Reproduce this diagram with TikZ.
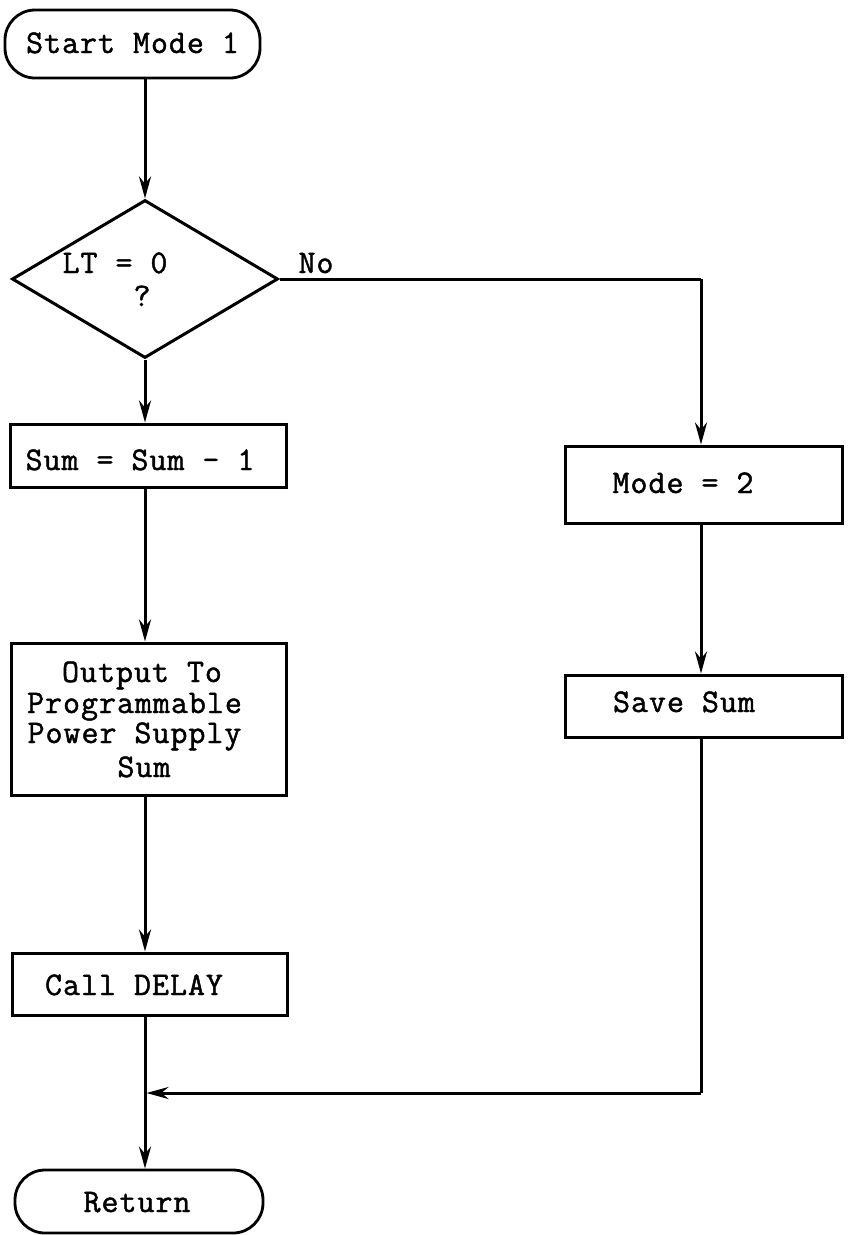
\documentclass[tikz,border=0pt]{standalone}
\usepackage{fontspec}
\newfontfamily\tw[LetterSpace=3,FakeBold=1.4]{Latin Modern Mono}
\usetikzlibrary{shapes.geometric,arrows.meta}
\tikzset{
  flow/.style={line width=3pt},
  arr/.style={flow,-{Stealth[length=22pt,width=12pt]}},
  procbox/.style={draw,line width=3pt,rectangle,inner sep=0pt},
  termbox/.style={draw,line width=2.8pt,rectangle,rounded corners=30pt,inner sep=0pt},
  decbox/.style={draw,line width=3pt,diamond,inner sep=0pt},
  txt/.style={inner sep=0pt,anchor=base,font=\tw\fontsize{33}{31}\selectfont},
}
\begin{document}
\begin{tikzpicture}[x=1pt,y=-1pt]
\useasboundingbox (0,0) rectangle (848,1235);
% shapes
\node[termbox,minimum width=255pt,minimum height=68pt] (start) at (132.5,44) {};
\node[decbox,minimum width=266pt,minimum height=158pt] (dec) at (145,279) {};
\node[procbox,minimum width=276pt,minimum height=63pt] (sum) at (148,455.5) {};
\node[procbox,minimum width=275pt,minimum height=152pt] (out) at (149,719) {};
\node[procbox,minimum width=275pt,minimum height=62pt] (call) at (149.5,984) {};
\node[termbox,minimum width=248pt,minimum height=63pt] (ret) at (139,1201.5) {};
\node[procbox,minimum width=277pt,minimum height=77pt] (mode) at (703.5,484.5) {};
\node[procbox,minimum width=277pt,minimum height=62pt] (save) at (703.5,706) {};
% texts
\node[txt] (tstart) at (132.5,53) {Start Mode 1};
\node[txt] (tlt) at (115,273) {LT = 0};
\node[txt] (tq) at (142,306) {?};
\node[txt] (tno) at (316,273) {No};
\node[txt] (tsum) at (140,470) {Sum = Sum - 1};
\node[txt] (to1) at (142,682) {Output To};
\node[txt] (to2) at (134.5,713) {Programmable};
\node[txt] (to3) at (134.5,743) {Power Supply};
\node[txt] (to4) at (144,777) {Sum};
\node[txt] (tcall) at (134,995) {Call DELAY};
\node[txt] (tret) at (137,1212) {Return};
\node[txt] (tmode) at (683,493) {Mode = 2};
\node[txt] (tsave) at (684,712) {Save Sum};
% coordinates
\coordinate (corner) at (701,279);
\coordinate (join) at (145,1093);
\coordinate (rcorner) at (701,1093);
% connectors
\draw[arr] (start.south -| 145,0) -- (dec.north);
\draw[arr] (dec.south) -- (sum.north -| dec.south);
\draw[arr] (sum.south -| dec.south) -- (out.north -| dec.south);
\draw[arr] (out.south -| dec.south) -- (call.north -| dec.south);
\draw[flow] (call.south -| dec.south) -- (join);
\draw[arr] (join) -- (ret.north -| join);
\draw[flow,line join=round] (dec.east) -- (corner);
\draw[arr] (corner) -- (mode.north -| corner);
\draw[arr] (mode.south -| corner) -- (save.north -| corner);
\draw[flow,line join=round] (save.south -| corner) -- (rcorner);
\draw[arr] (rcorner) -- ([xshift=1.5pt]join);
\end{tikzpicture}
\end{document}
